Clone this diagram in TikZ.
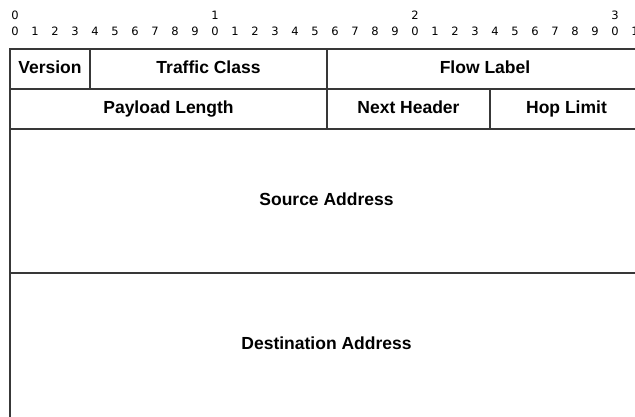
\documentclass[tikz,border=0pt]{standalone}
\usepackage{fontspec}
\setmainfont{Liberation Sans}
\newfontfamily\digitfont{DejaVu Sans}
\begin{document}
\begin{tikzpicture}[x=1pt,y=-1pt,
  rule/.style={draw=black!78,line width=1.3pt},
  labeltext/.style={inner sep=0pt,text height=13pt,text depth=4pt,
    font=\fontsize{17.5}{20}\selectfont\bfseries},
  field/.style={rule,labeltext,rectangle,minimum height=40pt},
  bitnum/.style={inner sep=0pt,text height=8.5pt,text depth=0pt,
    font=\digitfont\fontsize{11.5}{13}\selectfont}]
\useasboundingbox (0,0) rectangle (635,416);
\clip (0,0) rectangle (635,416);

% bit ruler: tens row and units row
\foreach \t in {0,1,2,3}
  \node[bitnum] (t\t) at ({15+200*\t},15) {\t};
\foreach \i in {0,...,31}{
  \pgfmathtruncatemacro{\d}{mod(\i,10)}
  \node[bitnum] (b\i) at ({15+20*\i},31.5) {\d};
}

% first word
\node[field,minimum width=80pt]  (ver)  at (50,69)    {Version};
\node[field,minimum width=237pt] (tc)   at (208.5,69) {Traffic Class};
\node[field,minimum width=316pt] (flow) at (485,69)   {Flow Label};

% second word
\node[field,minimum width=317pt] (plen) at (168.5,109) {Payload Length};
\node[field,minimum width=163pt] (nh)   at (408.5,109) {Next Header};
\node[field,minimum width=153pt] (hop)  at (566.5,109) {Hop Limit};

% 128-bit addresses (the lower one runs on past the page)
\node[rule,rectangle,minimum width=633pt,minimum height=144pt] (src) at (326.5,201) {};
\node[labeltext] (srctxt) at (src.center) {Source Address};
\node[rule,rectangle,minimum width=633pt,minimum height=170pt] (dst) at (326.5,358) {};
\node[labeltext] (dsttxt) at (326.5,345) {Destination Address};
\end{tikzpicture}
\end{document}
